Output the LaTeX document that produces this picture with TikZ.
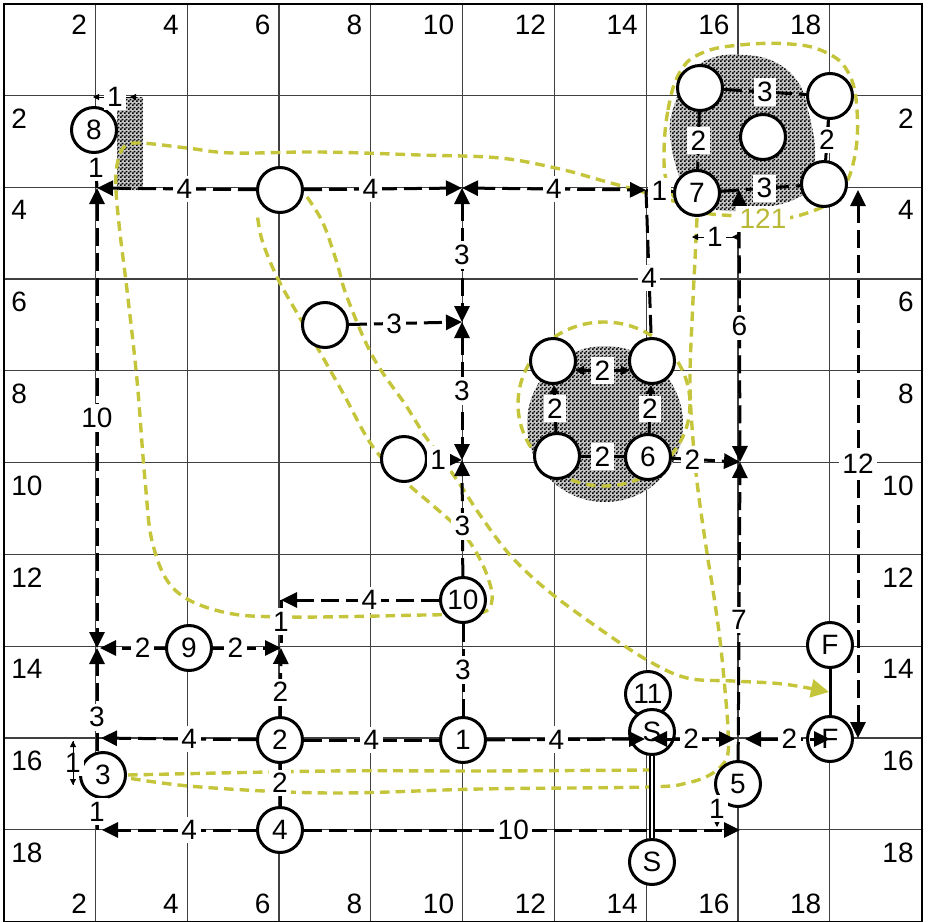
\documentclass[tikz,border=0pt]{standalone}
\usepackage{fontspec}
\setmainfont{Liberation Sans}
\usetikzlibrary{arrows.meta,patterns}
\definecolor{ylw}{RGB}{197,197,60}
\definecolor{ylwtext}{RGB}{185,185,55}
\pgfdeclarepatternformonly{chk}{\pgfpointorigin}{\pgfpoint{2pt}{2pt}}{\pgfpoint{2pt}{2pt}}{%
  \pgfpathrectangle{\pgfpointorigin}{\pgfpoint{1pt}{1pt}}%
  \pgfpathrectangle{\pgfpoint{1pt}{1pt}}{\pgfpoint{1pt}{1pt}}%
  \pgfusepath{fill}}
\tikzset{
  every node/.style={font=\fontsize{14}{16}\selectfont},
  gridl/.style={line width=0.6pt, draw=black!75},
  glab/.style={inner sep=0pt},
  circ/.style={circle, draw, line width=1.5pt, fill=white, minimum size=22.5pt, inner sep=0pt},
  elab/.style={fill=white, inner sep=1.8pt},
  cn/.style={line width=1.5pt, dash pattern=on 9pt off 3.5pt},
  ahead/.style={-{Triangle[length=8pt,width=7.5pt]}},
  bhead/.style={{Triangle[length=8pt,width=7.5pt]}-{Triangle[length=8pt,width=7.5pt]}},
  sahead/.style={-{Triangle[length=4.5pt,width=4.5pt]}},
  sbhead/.style={{Triangle[length=4.5pt,width=4.5pt]}-{Triangle[length=4.5pt,width=4.5pt]}},
  dimln/.style={line width=0.4pt},
  tinyhead/.style={-{Triangle[length=3pt,width=3pt]}},
  ylwline/.style={draw=ylw, line width=1.7pt, dash pattern=on 4.8pt off 3pt},
  hatchfill/.style={fill=black!22, postaction={pattern=chk}},
}
\begin{document}
\begin{tikzpicture}[x=0.5pt,y=-0.5pt]
\useasboundingbox (0,0) rectangle (928,922);
% grid
\foreach \k in {1,...,9}{
  \draw[gridl] ({3.5+91.8*\k},3.5) -- ({3.5+91.8*\k},921.5);
  \draw[gridl] (3.5,{3.5+91.8*\k}) -- (921.5,{3.5+91.8*\k});
}
\draw[line width=1pt] (3.5,3.5) rectangle (921.5,921.5);
\foreach \k in {1,...,9}{
  \pgfmathtruncatemacro{\v}{2*\k}
  \node[glab, anchor=east] (gt\k) at ({3.5+91.8*\k-8},25) {\v};
  \node[glab, anchor=east] (gb\k) at ({3.5+91.8*\k-8},904) {\v};
  \node[glab, anchor=west] (gl\k) at (11,{3.5+91.8*\k+23}) {\v};
  \node[glab, anchor=east] (gr\k) at (914,{3.5+91.8*\k+23}) {\v};
}
% hatched areas
\path[hatchfill] (117,97) rectangle (143,190);
\path[hatchfill] plot[smooth cycle, tension=0.7] coordinates {(670,135) (676,100) (690,72) (715,57) (745,55) (775,62) (798,82) (808,110) (815,150) (810,185) (793,200) (760,208) (728,211) (705,205) (683,185)};
\path[hatchfill] (605,424) circle[radius=78];
% yellow dashed outlines
\draw[ylwline] plot[smooth cycle, tension=0.7] coordinates {(664,157) (668,110) (680,72) (702,53) (740,45) (790,44) (825,52) (848,72) (857,110) (854,160) (838,195) (810,212) (770,220) (735,216) (705,213) (682,205) (668,185)};
\draw[ylwline] (604,404) ellipse[x radius=86, y radius=82];
\draw[ylwline] plot[smooth, tension=0.6] coordinates {(680,203) (640,191) (600,180) (560,169) (500,158) (420,155) (320,152) (233,153) (187,148) (140,143) (124,147) (117,165) (116,190) (120,233) (127,290) (137,380) (145,480) (153,545) (175,590) (223,612) (290,617) (423,615) (480,613) (492,600) (487,575) (473,547) (457,527) (430,503) (407,483) (373,447) (343,393) (317,347) (297,313) (277,277) (262,240) (257,212)};
\draw[ylwline, -{Triangle[length=9pt,width=9pt,fill=ylw]}] plot[smooth, tension=0.6] coordinates {(307,197) (323,223) (337,263) (347,297) (373,357) (407,407) (423,433) (457,480) (480,515) (510,555) (547,590) (597,627) (647,660) (687,678) (733,681) (783,684) (829,692)};
\draw[ylwline] plot[smooth, tension=0.6] coordinates {(697,218) (695,260) (693,300) (690,380) (693,440) (698,490) (707,553) (713,590) (720,640) (725,690) (728,730) (727,757) (713,773) (687,783) (647,787) (480,789) (330,793) (200,787) (128,778)};
\draw[ylwline] plot[smooth, tension=0.6] coordinates {(128,775) (330,771) (480,771) (650,770)};
% circles
\node[circ] (n8) at (94,130) {8};
\node[circ] (nA) at (700,88) {};
\node[circ] (nB) at (830,96) {};
\node[circ] (nC) at (763,137) {};
\node[circ] (n7) at (697,193) {7};
\node[circ] (nD) at (824,184) {};
\node[circ] (nH) at (280,190) {};
\node[circ] (nI) at (325,325) {};
\node[circ] (nJ) at (404,459) {};
\node[circ] (nE) at (553,361) {};
\node[circ] (nF) at (652,361) {};
\node[circ] (nG) at (557,456) {};
\node[circ] (n6) at (648,457) {6};
\node[circ] (n10) at (463,600) {10};
\node[circ] (n9) at (189,648) {9};
\node[circ] (n2) at (280,740) {2};
\node[circ] (n1) at (463,740) {1};
\node[circ] (n3) at (103,775) {3};
\node[circ] (n4) at (280,830) {4};
\node[circ] (n11) at (648,694) {11};
\node[circ] (nS1) at (652,732) {S};
\node[circ] (nS2) at (652,862) {S};
\node[circ] (n5) at (738,784) {5};
\node[circ] (nFa) at (830,645) {F};
\node[circ] (nFb) at (830,739) {F};
% junctions
\coordinate (jTL) at (97,188);
\coordinate (jT1) at (462,188);
\coordinate (jT2) at (646,190);
\coordinate (jM1) at (462,322);
\coordinate (jM2) at (462,460);
\coordinate (jRt) at (739,190);
\coordinate (jR) at (740,462);
\coordinate (jRRt) at (858,190);
\coordinate (jRRb) at (858,738);
\coordinate (jL9) at (97,648);
\coordinate (j9R) at (281,648);
\coordinate (j10L) at (281,600);
\coordinate (jL2) at (97,738);
\coordinate (jL4) at (97,830);
\coordinate (jS) at (740,739);
\coordinate (j5b) at (740,830);
\coordinate (sL) at (645,739);
\coordinate (sR) at (651,739);
% plain lines
\draw[line width=1.5pt] (nFa) -- (nFb);
\draw[double, line width=0.7pt, double distance=1.4pt] (nS1) -- (nS2);
% top cluster
\draw[cn] (nA) -- node[elab]{3} (nB);
\draw[cn] (nA) -- node[elab]{2} (n7);
\draw[cn] (nB) -- node[elab]{2} (nD);
\draw[cn] (n7) -- node[elab, pos=0.55]{3} (nD);
% middle cluster
\draw[cn, sbhead] (nE.-23) -- node[elab]{2} (nF.203);
\draw[cn, sahead] (nG) -- node[elab]{2} (nE);
\draw[cn, sahead] (n6) -- node[elab]{2} (nF);
\draw[cn] (nG) -- node[elab]{2} (n6);
% top row
\draw[cn] (n8) -- node[elab, pos=0.4]{1} (jTL);
\draw[cn, ahead] (nH) -- node[elab, pos=0.45]{4} (jTL);
\draw[cn, ahead] (nH) -- node[elab, pos=0.42]{4} (jT1);
\draw[cn, bhead] (jT1) -- node[elab]{4} (jT2);
\draw[cn] (jT2) -- node[elab, pos=0.5]{1} (n7);
\draw[cn] (jT2) -- node[elab, pos=0.6]{4} (nF);
% central column
\draw[cn, bhead] (jT1) -- node[elab]{3} (jM1);
\draw[cn, bhead] (jM1) -- node[elab]{3} (jM2);
\draw[cn, ahead] (nI) -- node[elab, pos=0.4]{3} (jM1);
\draw[cn, ahead] (nJ) -- node[elab, pos=0.3]{1} (jM2);
\draw[cn, ahead] (n10) -- node[elab, pos=0.43]{3} (jM2);
\draw[cn] (n10) -- node[elab]{3} (n1);
% right columns
\draw[cn, ahead] (n6) -- node[elab, pos=0.3]{2} (jR);
\draw[cn, bhead] (jRt) -- node[elab]{6} (jR);
\draw[cn, ahead] (n5) -- node[elab, pos=0.47]{7} (jR);
\draw[cn, bhead] (jRRt) -- node[elab]{12} (jRRb);
% left column
\draw[cn, bhead] (jTL) -- node[elab]{10} (jL9);
\draw[cn, ahead] (n3.north -| jL9) -- node[elab, pos=0.33]{3} (jL9);
\draw[cn, ahead, shorten >=1.5pt] (n9) -- node[elab, pos=0.33]{2} (jL9);
\draw[cn, ahead] (n9) -- node[elab, pos=0.33]{2} (j9R);
\draw[cn, ahead] (n2) -- node[elab, pos=0.35]{2} (j9R);
\draw[cn, ahead] (n10) -- node[elab, pos=0.44]{4} (j10L);
\draw[cn] (j10L) -- node[elab, pos=0.45]{1} (j9R);
% row 16
\draw[cn, ahead, shorten >=2pt] (n2) -- node[elab, pos=0.42]{4} (jL2);
\draw[cn] (n2) -- node[elab]{4} (n1);
\draw[cn, ahead] (n1) -- node[elab, pos=0.44]{4} (sL);
\draw[cn, bhead, shorten >=2.5pt] (sR) -- node[elab, pos=0.45]{2} (jS);
\draw[cn, bhead, shorten <=2.5pt] (jS) -- node[elab, pos=0.55]{2} (nFb.center);
% rows 17-18
\draw[cn] (n2) -- node[elab, pos=0.45]{2} (n4);
\draw[cn] (n3.south -| jL4) -- node[elab, pos=0.4]{1} (jL4);
\draw[cn, ahead, shorten >=2.5pt] (n4) -- node[elab, pos=0.42]{4} (jL4);
\draw[cn, ahead] (n4) -- node[elab, pos=0.48]{10} (j5b);
% dimension marks
\coordinate (da1) at (93,97);
\coordinate (da2) at (137,97);
\coordinate (da3) at (130,97);
\draw[dimln, tinyhead] (da2) -- (da3);
\draw[dimln, tinyhead] (da2) -- node[elab, pos=0.5]{1} (da1);
\coordinate (db1) at (692,237);
\coordinate (db2) at (738,237);
\coordinate (db3) at (732,237);
\draw[dimln, tinyhead] (db2) -- (db3);
\draw[dimln, tinyhead] (db2) -- node[elab, pos=0.5]{1} (db1);
\coordinate (dc1) at (73,741);
\coordinate (dc2) at (73,785);
\draw[dimln, tinyhead] (dc1) -- node[elab, pos=0.5]{1} (dc2);
\draw[dimln, tinyhead] (dc2) -- (dc1);
\coordinate (dd1) at (717,796);
\coordinate (dd2) at (717,827);
\draw[dimln, tinyhead] (dd1) -- node[elab, pos=0.4]{1} (dd2);
% label 121
\node[fill=white, inner xsep=2pt, inner ysep=1.5pt, text=ylwtext] (l121) at (763,219) {121};
\end{tikzpicture}
\end{document}
